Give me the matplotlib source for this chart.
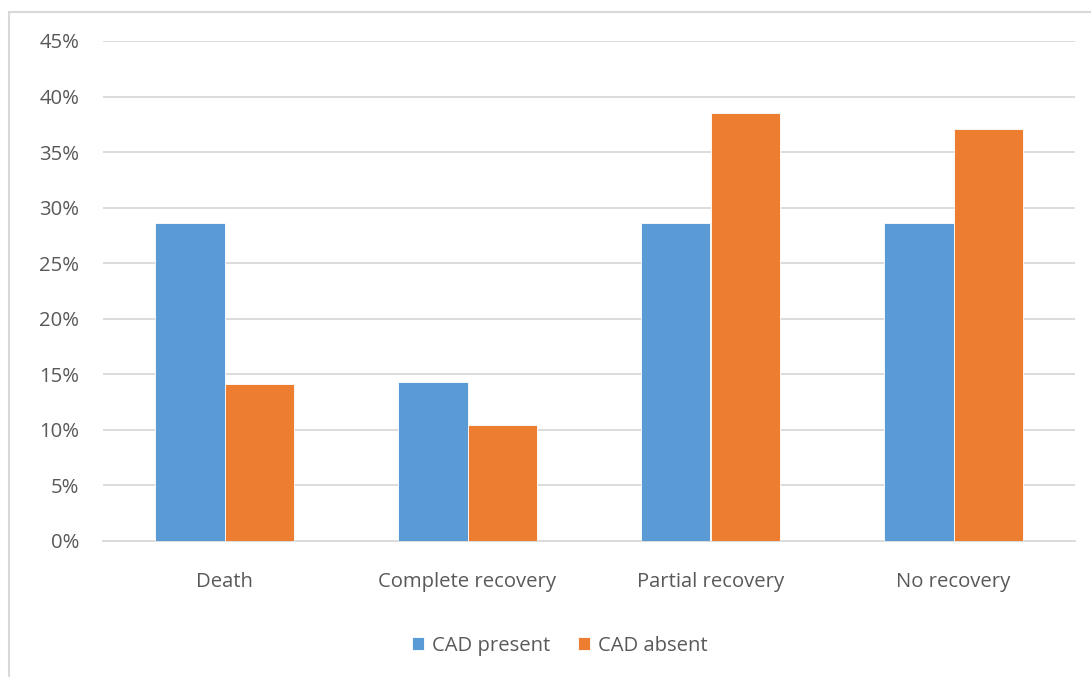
import matplotlib
matplotlib.use("Agg")
import matplotlib.pyplot as plt
from matplotlib.patches import Rectangle
import numpy as np

categories = ["Death", "Complete recovery", "Partial recovery", "No recovery"]
cad_present = [28.6, 14.3, 28.6, 28.6]
cad_absent = [14.1, 10.4, 38.5, 37.1]
series_names = ["CAD present", "CAD absent"]
y_ticks = [0, 5, 10, 15, 20, 25, 30, 35, 40, 45]

BLUE = "#5B9BD5"
ORANGE = "#ED7D31"
TEXT = "#595959"
GRID = "#D9D9D9"
FS = 14.6

plt.rcParams["font.family"] = ["Open Sans", "DejaVu Sans"]

W, H = 1091, 677
fig = plt.figure(figsize=(W / 100, H / 100), dpi=100)
fig.patch.set_facecolor("white")

# chart frame (extends past right and bottom edges)
fig.patches.append(Rectangle((8.5 / W, -0.1), 1.2, 1 - 11.5 / H + 0.1,
                             transform=fig.transFigure, fill=False,
                             edgecolor=GRID, linewidth=1.5))

ax = fig.add_axes([103 / W, 1 - 541 / H, (1075 - 103) / W, (541 - 41) / H])
x = np.arange(len(categories))
bw = 0.285
ax.bar(x - bw / 2, cad_present, bw, color=BLUE, edgecolor="white",
       linewidth=0.6, label=series_names[0], zorder=3)
ax.bar(x + bw / 2, cad_absent, bw, color=ORANGE, edgecolor="white",
       linewidth=0.6, label=series_names[1], zorder=3)

ax.set_xlim(-0.5, len(categories) - 0.5)
ax.set_ylim(0, 45)
ax.set_yticks(y_ticks)
ax.set_yticklabels([f"{v}%" for v in y_ticks])
ax.set_xticks(x)
ax.set_xticklabels(categories)
ax.yaxis.grid(True, color=GRID, linewidth=1.3, zorder=0)
ax.set_axisbelow(True)
for s in ["top", "right", "left"]:
    ax.spines[s].set_visible(False)
ax.spines["bottom"].set_color(GRID)
ax.spines["bottom"].set_linewidth(1.3)
ax.tick_params(axis="both", length=0, colors=TEXT, labelsize=FS)
ax.tick_params(axis="y", pad=17)
ax.tick_params(axis="x", pad=22.5)

leg = fig.legend(loc="center", bbox_to_anchor=(560 / W, 1 - 646 / H),
                 ncol=2, frameon=False, fontsize=FS, handlelength=0.6,
                 handleheight=0.6, handletextpad=0.4, columnspacing=1.35)
for t in leg.get_texts():
    t.set_color(TEXT)

fig.savefig("out.png", dpi=100)
